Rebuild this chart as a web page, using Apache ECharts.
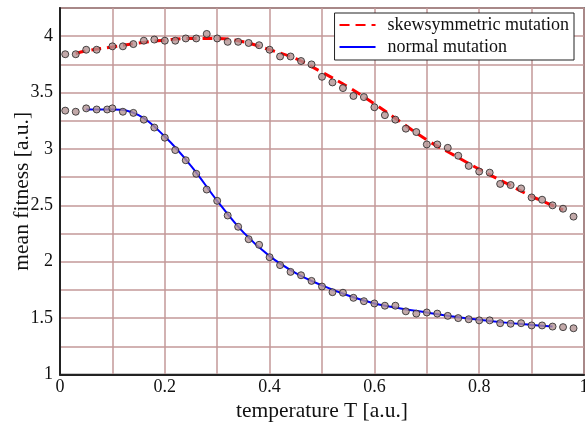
<!DOCTYPE html>
<html>
<head>
<meta charset="utf-8">
<script src="https://cdn.jsdelivr.net/npm/echarts@6/dist/echarts.min.js"></script>
<style>
  html, body { margin: 0; padding: 0; background: #fff; }
  #chart { width: 585px; height: 426px; }
</style>
</head>
<body>
<div id="chart"></div>
<script>
// measured points (temperature, fitness)
const skewT = [0.01, 0.03, 0.05, 0.07, 0.10, 0.12, 0.14, 0.16, 0.18, 0.20, 0.22, 0.24, 0.26, 0.28, 0.30,
  0.32, 0.34, 0.36, 0.38, 0.40, 0.42, 0.44, 0.46, 0.48, 0.50, 0.52, 0.54, 0.56, 0.58, 0.60, 0.62,
  0.64, 0.66, 0.68, 0.70, 0.72, 0.74, 0.76, 0.78, 0.80, 0.82, 0.84, 0.86, 0.88, 0.90, 0.92, 0.94, 0.96, 0.98];
const skewFit = [3.84, 3.84, 3.88, 3.88, 3.91, 3.91, 3.93, 3.96, 3.97, 3.96, 3.96, 3.98, 3.98, 4.02, 3.98,
  3.95, 3.95, 3.94, 3.92, 3.88, 3.82, 3.82, 3.78, 3.75, 3.64, 3.59, 3.54, 3.47, 3.46, 3.37, 3.30,
  3.26, 3.18, 3.15, 3.04, 3.04, 3.01, 2.94, 2.85, 2.80, 2.79, 2.69, 2.68, 2.65, 2.57, 2.55, 2.50, 2.47, 2.40];

const normT = [0.01, 0.03, 0.05, 0.07, 0.09, 0.10, 0.12, 0.14, 0.16, 0.18, 0.20, 0.22, 0.24, 0.26, 0.28,
  0.30, 0.32, 0.34, 0.36, 0.38, 0.40, 0.42, 0.44, 0.46, 0.48, 0.50, 0.52, 0.54, 0.56, 0.58, 0.60,
  0.62, 0.64, 0.66, 0.68, 0.70, 0.72, 0.74, 0.76, 0.78, 0.80, 0.82, 0.84, 0.86, 0.88, 0.90, 0.92, 0.94, 0.96, 0.98];
const normFit = [3.34, 3.33, 3.36, 3.35, 3.35, 3.36, 3.33, 3.32, 3.26, 3.19, 3.10, 2.99, 2.90, 2.78, 2.64,
  2.54, 2.41, 2.31, 2.20, 2.15, 2.04, 1.97, 1.91, 1.88, 1.83, 1.78, 1.73, 1.725, 1.68, 1.65, 1.63,
  1.61, 1.61, 1.56, 1.54, 1.55, 1.54, 1.52, 1.50, 1.49, 1.48, 1.48, 1.455, 1.45, 1.455, 1.435, 1.435, 1.425, 1.42, 1.41];

// fitted curves
const skewCurveT = [0.03, 0.05, 0.10, 0.15, 0.20, 0.25, 0.30, 0.35, 0.40, 0.45, 0.50, 0.55, 0.60,
  0.65, 0.70, 0.75, 0.80, 0.85, 0.90, 0.96];
const skewCurve = [3.845, 3.87, 3.905, 3.94, 3.965, 3.98, 3.98, 3.95, 3.88, 3.80, 3.68, 3.55, 3.40,
  3.24, 3.08, 2.95, 2.82, 2.70, 2.58, 2.46];
const normCurveT = [0.05, 0.10, 0.15, 0.20, 0.25, 0.30, 0.35, 0.40, 0.45, 0.50, 0.55, 0.60, 0.65,
  0.70, 0.75, 0.80, 0.85, 0.90, 0.94];
const normCurve = [3.35, 3.35, 3.30, 3.11, 2.85, 2.54, 2.26, 2.05, 1.90, 1.79, 1.70, 1.63, 1.585,
  1.55, 1.515, 1.485, 1.46, 1.44, 1.425];

const zip = (xs, ys) => xs.map((x, i) => [x, ys[i]]);

const font = 'Liberation Serif';
const gridColor = '#c39999';
const dotStyle = { color: '#b39494', borderColor: '#222', borderWidth: 1 };

let chart = echarts.init(document.getElementById('chart'));
let option = {
  animation: false,
  textStyle: { fontFamily: font },
  grid: {
    left: 60, right: 1, top: 8, bottom: 51.5,
    outerBoundsMode: 'none',
    containLabel: false,
    show: true, borderColor: '#222', borderWidth: 1.5
  },
  legend: {
    data: ['skewsymmetric mutation', 'normal mutation'],
    orient: 'vertical',
    right: 11, top: 13,
    itemWidth: 36, itemHeight: 12, itemGap: 2,
    padding: [2, 5, 3, 4],
    backgroundColor: '#fff',
    borderColor: '#222', borderWidth: 1, borderRadius: 0,
    itemStyle: { opacity: 0 },
    textStyle: { fontFamily: font, fontSize: 18, lineHeight: 20, color: '#111', padding: [0, 0, 0, 7] }
  },
  xAxis: {
    type: 'value',
    min: 0, max: 1, interval: 0.1,
    name: 'temperature T [a.u.]',
    nameLocation: 'middle', nameGap: 26,
    nameMoveOverlap: false,
    nameTextStyle: { fontFamily: font, fontSize: 21.5, color: '#111' },
    axisLine: { show: true, lineStyle: { color: '#222', width: 2 } },
    axisTick: { show: false },
    axisLabel: {
      fontFamily: font, fontSize: 18, color: '#111', margin: 4,
      formatter: v => (Math.round(v * 10) % 2 === 0 ? String(Math.round(v * 10) / 10) : '')
    },
    splitLine: { show: true, lineStyle: { color: gridColor, width: 1.5 } }
  },
  yAxis: {
    type: 'value',
    min: 1, max: 4.25, interval: 0.25,
    name: 'mean fitness [a.u.]',
    nameLocation: 'middle', nameGap: 27,
    nameMoveOverlap: false,
    nameTextStyle: { fontFamily: font, fontSize: 21.5, color: '#111' },
    axisLine: { show: true, lineStyle: { color: '#222', width: 2 } },
    axisTick: { show: false },
    axisLabel: {
      fontFamily: font, fontSize: 18, color: '#111', margin: 7,
      formatter: v => (Math.round(v * 4) % 2 === 0 && v < 4.1 ? String(Math.round(v * 2) / 2) : '')
    },
    splitLine: { show: true, lineStyle: { color: gridColor, width: 1.5 } }
  },
  series: [
    {
      name: 'skewsymmetric mutation',
      type: 'line',
      data: zip(skewCurveT, skewCurve),
      smooth: 0.4,
      symbol: 'none',
      z: 2,
      itemStyle: { color: '#ff0000' },
      lineStyle: { color: '#ff0000', width: 3, type: [10, 6] }
    },
    {
      name: 'normal mutation',
      type: 'line',
      data: zip(normCurveT, normCurve),
      smooth: 0.4,
      symbol: 'none',
      z: 2,
      itemStyle: { color: '#0000ff' },
      lineStyle: { color: '#0000ff', width: 2 }
    },
    {
      name: 'skew points',
      type: 'scatter',
      data: zip(skewT, skewFit),
      symbolSize: 7,
      z: 3,
      itemStyle: dotStyle
    },
    {
      name: 'normal points',
      type: 'scatter',
      data: zip(normT, normFit),
      symbolSize: 7,
      z: 3,
      itemStyle: dotStyle
    }
  ]
};
chart.setOption(option);
</script>
</body>
</html>
